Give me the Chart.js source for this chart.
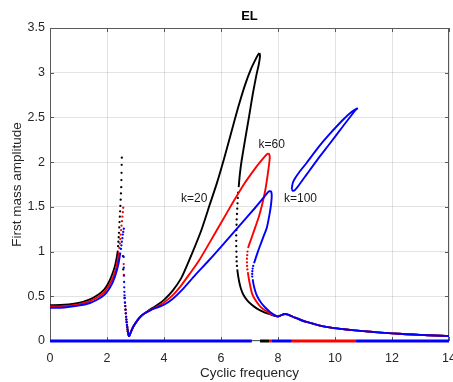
<!DOCTYPE html>
<html><head><meta charset="utf-8">
<script src="https://cdn.jsdelivr.net/npm/chart.js@4"></script>
<style>html,body{margin:0;padding:0;background:#fff;overflow:hidden}</style>
</head><body>
<canvas id="c" width="453" height="382"></canvas>
<script>
// ---- tick values ----
const xTickValues = [0, 2, 4, 6, 8, 10, 12, 14];
const yTickValues = [0, 0.5, 1, 1.5, 2, 2.5, 3, 3.5];

// ---- k = 20 (black) ----
const k20Low = [[0,0.40],[0.5,0.405],[1.0,0.425],[1.4,0.465],[1.7,0.52],[1.9,0.575],[2.0,0.62],[2.1,0.68],[2.2,0.76],[2.28,0.84],[2.34,0.93],[2.38,1.01]];
const k20PeakDots = [[2.39,1.06],[2.40,1.11],[2.41,1.16],[2.42,1.21],[2.43,1.27],[2.44,1.33],[2.45,1.39],[2.46,1.45],[2.47,1.51],[2.48,1.58],[2.49,1.65],[2.50,1.72],[2.505,1.80],[2.51,1.88],[2.515,1.97],[2.52,2.05]];
const k20Drop = [[2.56,0.95],[2.57,0.80]];
const k20Rise = [[3.35,0.315],[3.6,0.37],[3.8,0.41],[4.0,0.46],[4.3,0.56],[4.6,0.70],[4.8,0.84],[5.0,0.99],[5.3,1.23],[5.6,1.52],[5.85,1.76],[6.1,2.03],[6.35,2.32],[6.6,2.61],[6.85,2.87],[7.05,3.04],[7.2,3.14],[7.3,3.20],[7.35,3.22]];
const k20Mid = [[7.35,3.22],[7.37,3.19],[7.33,3.10],[7.24,2.97],[7.12,2.77],[6.99,2.52],[6.85,2.26],[6.72,2.01],[6.66,1.86],[6.62,1.72]];
const k20MidDots = [[6.60,1.66],[6.59,1.60],[6.58,1.54],[6.57,1.48],[6.56,1.42],[6.55,1.36],[6.545,1.30],[6.54,1.24],[6.535,1.18],[6.535,1.12],[6.535,1.06],[6.54,1.00],[6.545,0.94],[6.55,0.89],[6.56,0.84]];
const k20Lower = [[6.57,0.80],[6.6,0.73],[6.64,0.66],[6.7,0.585],[6.79,0.515],[6.92,0.455],[7.08,0.405],[7.25,0.365],[7.43,0.335],[7.65,0.305],[7.84,0.285],[8.0,0.272]];
const k20Zero = [[[7.37,0],[7.69,0]]];

// ---- k = 60 (red) ----
const k60Low = [[0,0.385],[0.5,0.39],[1.0,0.41],[1.4,0.445],[1.7,0.495],[1.9,0.545],[2.0,0.585],[2.1,0.635],[2.2,0.70],[2.3,0.79],[2.37,0.89],[2.42,0.99]];
const k60PeakDots = [[2.435,1.04],[2.45,1.09],[2.465,1.14],[2.48,1.19],[2.495,1.24],[2.51,1.29],[2.525,1.34],[2.54,1.39],[2.555,1.44],[2.57,1.49]];
const k60Drop = [[2.585,0.86],[2.59,0.74]];
const k60Rise = [[3.35,0.315],[3.6,0.36],[3.8,0.39],[4.0,0.43],[4.3,0.51],[4.6,0.62],[4.9,0.75],[5.23,0.9],[5.6,1.1],[6.0,1.32],[6.4,1.54],[6.8,1.75],[7.2,1.93],[7.45,2.03],[7.6,2.085],[7.67,2.10]];
const k60Mid = [[7.67,2.10],[7.71,2.07],[7.70,2.01],[7.63,1.84],[7.55,1.68],[7.44,1.52],[7.32,1.38],[7.2,1.27],[7.08,1.16],[6.99,1.08],[6.95,1.04]];
const k60MidDots = [[6.93,1.00],[6.92,0.96],[6.91,0.92],[6.91,0.88],[6.915,0.84],[6.925,0.80]];
const k60Lower = [[6.94,0.77],[6.98,0.69],[7.03,0.61],[7.09,0.53],[7.2,0.46],[7.38,0.385],[7.58,0.335],[7.78,0.295],[8.0,0.272]];
const k60Zero = [[[7.69,0],[7.78,0]],[[8.48,0],[10.74,0]]];

// ---- k = 100 (blue) ----
const k100Low = [[0,0.37],[0.5,0.375],[1.0,0.395],[1.4,0.425],[1.7,0.47],[1.9,0.515],[2.0,0.55],[2.1,0.595],[2.2,0.655],[2.3,0.74],[2.4,0.86],[2.47,0.99]];
const k100PeakDots = [[2.49,1.03],[2.505,1.07],[2.52,1.11],[2.54,1.15],[2.555,1.19],[2.57,1.22],[2.59,1.255]];
const k100Drop = [[2.585,0.94],[2.59,0.82],[2.595,0.73],[2.60,0.66],[2.605,0.60],[2.61,0.55],[2.615,0.51]];
const k100Rise = [[3.35,0.315],[3.6,0.355],[3.8,0.38],[4.0,0.405],[4.3,0.47],[4.6,0.56],[5.1,0.74],[5.57,0.9],[6.1,1.09],[6.62,1.28],[7.2,1.49],[7.5,1.605],[7.65,1.665],[7.72,1.68]];
const k100Mid = [[7.72,1.68],[7.765,1.665],[7.78,1.62],[7.76,1.54],[7.71,1.43],[7.61,1.27],[7.47,1.15],[7.34,1.04],[7.22,0.93],[7.16,0.87]];
const k100MidDots = [[7.13,0.84],[7.11,0.81],[7.10,0.78],[7.095,0.75],[7.095,0.72]];
const k100Lower = [[7.11,0.69],[7.15,0.62],[7.2,0.56],[7.27,0.50],[7.4,0.43],[7.55,0.375],[7.72,0.325],[7.88,0.29],[8.0,0.272]];
const k100Isola = [[8.48,1.70],[8.52,1.77],[8.6,1.82],[8.75,1.89],[9.0,1.99],[9.4,2.16],[9.8,2.31],[10.3,2.48],[10.6,2.565],[10.78,2.60],[10.7,2.575],[10.3,2.41],[9.8,2.20],[9.41,2.04],[9.0,1.86],[8.75,1.75],[8.6,1.69],[8.52,1.68],[8.48,1.70]];
const k100Zero = [[[0,0],[7.08,0]],[[7.78,0],[8.48,0]],[[10.74,0],[14,0]]];

// ---- branches shared by all three k (curves coincide) ----
const dipDots = [[2.62,0.48],[2.63,0.43],[2.64,0.39],[2.65,0.35],[2.66,0.31],[2.67,0.27],[2.68,0.24],[2.69,0.21],[2.70,0.18],[2.71,0.155],[2.72,0.13],[2.73,0.11]];
const dipLine = [[2.73,0.11],[2.745,0.08],[2.77,0.055],[2.79,0.06],[2.82,0.085],[2.87,0.125],[2.93,0.165],[3.0,0.20],[3.1,0.245],[3.2,0.28],[3.35,0.315]];
const tail = [[8.0,0.272],[8.08,0.283],[8.16,0.296],[8.24,0.302],[8.32,0.298],[8.45,0.282],[8.6,0.26],[8.8,0.235],[9.0,0.213],[9.4,0.178],[9.8,0.153],[10.2,0.136],[10.6,0.122],[11.0,0.11],[11.5,0.097],[12.0,0.085],[12.5,0.076],[13.0,0.068],[13.5,0.061],[14.0,0.055]];

// ---- curve labels ----
const labelTexts = ['k=20', 'k=60', 'k=100'];
const labelX = [5.06, 7.78, 8.79];
const labelY = [1.59, 2.19, 1.59];

const FONT = "'Liberation Sans', Arial, Helvetica, sans-serif";
const toXY = a => a.map(p => ({x: p[0], y: p[1]}));
const datasets = [];
function line(pts, color, order, w) {
  datasets.push({data: toXY(pts), showLine: true, borderColor: color, borderWidth: w || 1.9,
    pointRadius: 0, tension: 0.2, order: order, fill: false, clip: false});
}
function dots(pts, color, order) {
  datasets.push({data: toXY(pts), showLine: false, pointRadius: 1.15, pointBorderWidth: 0,
    pointBackgroundColor: color, order: order});
}
const series = [
  {c: '#000000', o: 3, low: k20Low, pk: k20PeakDots, drop: k20Drop, rise: k20Rise, mid: k20Mid, md: k20MidDots, lo: k20Lower, zero: k20Zero},
  {c: '#ff0000', o: 2, low: k60Low, pk: k60PeakDots, drop: k60Drop, rise: k60Rise, mid: k60Mid, md: k60MidDots, lo: k60Lower, zero: k60Zero},
  {c: '#0000ff', o: 1, low: k100Low, pk: k100PeakDots, drop: k100Drop, rise: k100Rise, mid: k100Mid, md: k100MidDots, lo: k100Lower, zero: k100Zero}
];
series.forEach(s => {
  line(s.low, s.c, s.o);
  dots(s.pk, s.c, s.o);
  dots(s.drop, s.c, s.o);
  dots(dipDots, s.c, s.o);
  line(dipLine, s.c, s.o);
  line(s.rise, s.c, s.o);
  line(s.mid, s.c, s.o);
  dots(s.md, s.c, s.o);
  line(s.lo, s.c, s.o);
  line(tail, s.c, s.o);
  s.zero.forEach(z => line(z, s.c, s.o, 3));
});
line(k100Isola, '#0000ff', 1);

const framePlugin = {
  id: 'frame',
  beforeDatasetsDraw(chart) {
    const {ctx, chartArea: a, scales} = chart;
    ctx.save();
    ctx.strokeStyle = '#5a5a5a';
    ctx.lineWidth = 1;
    ctx.strokeRect(a.left + 0.5, a.top + 0.5, a.right - a.left - 1, a.bottom - a.top - 1);
    ctx.beginPath();
    xTickValues.forEach(v => {
      const px = Math.round(scales.x.getPixelForValue(v)) + 0.5;
      ctx.moveTo(px, a.bottom); ctx.lineTo(px, a.bottom - 4);
      ctx.moveTo(px, a.top); ctx.lineTo(px, a.top + 4);
    });
    yTickValues.forEach(v => {
      const py = Math.round(scales.y.getPixelForValue(v)) + 0.5;
      ctx.moveTo(a.left, py); ctx.lineTo(a.left + 4, py);
      ctx.moveTo(a.right, py); ctx.lineTo(a.right - 4, py);
    });
    ctx.stroke();
    ctx.restore();
  },
  afterDatasetsDraw(chart) {
    const {ctx, scales} = chart;
    ctx.save();
    ctx.font = '12px ' + FONT;
    ctx.fillStyle = '#1a1a1a';
    ctx.textAlign = 'center';
    ctx.textBaseline = 'middle';
    labelTexts.forEach((t, i) => {
      ctx.fillText(t, scales.x.getPixelForValue(labelX[i]), scales.y.getPixelForValue(labelY[i]));
    });
    ctx.restore();
  }
};

const zeroMargins = s => {
  s.paddingLeft = 0; s.paddingRight = 0; s.paddingTop = 0; s.paddingBottom = 0;
  if (s._margins) { s._margins.left = 0; s._margins.right = 0; s._margins.top = 0; s._margins.bottom = 0; }
};

const gridColor = 'rgba(38,38,38,0.13)';
new Chart(document.getElementById('c'), {
  type: 'scatter',
  data: {datasets},
  plugins: [framePlugin],
  options: {
    responsive: false, animation: false, devicePixelRatio: 1,
    layout: {padding: {left: 0, right: 2, top: 0, bottom: 0}},
    plugins: {
      legend: {display: false}, tooltip: {enabled: false},
      title: {display: true, text: 'EL', fullSize: false, color: '#000',
        font: {family: FONT, size: 13, weight: 'bold'}, padding: {top: 9, bottom: 3.4}}
    },
    scales: {
      x: {
        type: 'linear', min: 0, max: 14,
        afterBuildTicks: s => { s.ticks = xTickValues.map(v => ({value: v})); },
        afterFit: s => { s.height = 41; zeroMargins(s); },
        ticks: {color: '#262626', font: {family: FONT, size: 12.5}, padding: 10, maxRotation: 0, autoSkip: false,
          callback: v => String(v)},
        grid: {color: gridColor, drawTicks: false},
        border: {display: false},
        title: {display: true, text: 'Cyclic frequency', color: '#262626',
          font: {family: FONT, size: 13.5}, padding: {top: 0, bottom: 0.5}}
      },
      y: {
        type: 'linear', min: 0, max: 3.5,
        afterBuildTicks: s => { s.ticks = yTickValues.map(v => ({value: v})); },
        afterFit: s => { s.width = 50; zeroMargins(s); },
        ticks: {color: '#262626', font: {family: FONT, size: 12.5}, padding: 5, autoSkip: false,
          callback: v => String(v)},
        grid: {color: gridColor, drawTicks: false},
        border: {display: false},
        title: {display: true, text: 'First mass amplitude', color: '#262626',
          font: {family: FONT, size: 13.5}, padding: {top: 9, bottom: 0}}
      }
    }
  }
});
</script>
</body></html>
